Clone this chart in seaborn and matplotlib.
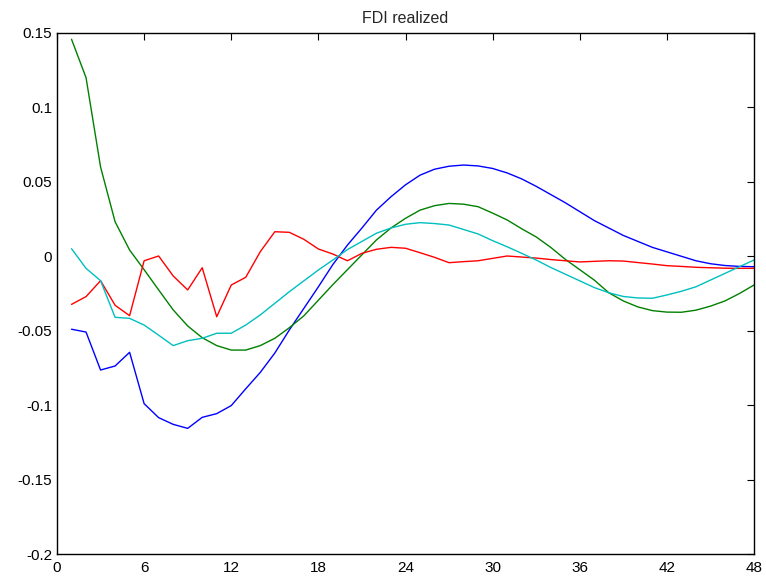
import numpy as np
import pandas as pd
import matplotlib
matplotlib.use("Agg")
import matplotlib.pyplot as plt
import seaborn as sns

# Impulse responses over a 48-period horizon
horizon = list(range(1, 49))

blue_series = [
    -0.0490, -0.0509, -0.0764, -0.0737, -0.0645, -0.0990, -0.1084, -0.1129,
    -0.1156, -0.1082, -0.1057, -0.1003, -0.0890, -0.0780, -0.0650, -0.0495,
    -0.0350, -0.0205, -0.0055, 0.0075, 0.0190, 0.0310, 0.0400, 0.0480,
    0.0545, 0.0585, 0.0605, 0.0613, 0.0607, 0.0590, 0.0560, 0.0520,
    0.0470, 0.0415, 0.0360, 0.0300, 0.0240, 0.0190, 0.0140, 0.0100,
    0.0060, 0.0030, 0.0000, -0.0030, -0.0050, -0.0062, -0.0068, -0.0070,
]

green_series = [
    0.1458, 0.1200, 0.0600, 0.0232, 0.0042, -0.0090, -0.0226, -0.0360,
    -0.0468, -0.0547, -0.0600, -0.0630, -0.0630, -0.0600, -0.0551, -0.0480,
    -0.0400, -0.0295, -0.0190, -0.0090, 0.0010, 0.0110, 0.0190, 0.0255,
    0.0310, 0.0340, 0.0355, 0.0350, 0.0333, 0.0290, 0.0244, 0.0185,
    0.0130, 0.0060, -0.0020, -0.0090, -0.0160, -0.0245, -0.0300, -0.0340,
    -0.0365, -0.0375, -0.0376, -0.0362, -0.0335, -0.0300, -0.0250, -0.0193,
]

red_series = [
    -0.0323, -0.0271, -0.0164, -0.0329, -0.0399, -0.0030, 0.0002, -0.0132,
    -0.0226, -0.0077, -0.0406, -0.0193, -0.0141, 0.0031, 0.0165, 0.0161,
    0.0114, 0.0049, 0.0015, -0.0030, 0.0020, 0.0047, 0.0060, 0.0054,
    0.0024, -0.0007, -0.0043, -0.0036, -0.0030, -0.0014, 0.0002, -0.0005,
    -0.0012, -0.0022, -0.0030, -0.0038, -0.0034, -0.0030, -0.0032, -0.0042,
    -0.0052, -0.0063, -0.0068, -0.0074, -0.0077, -0.0080, -0.0081, -0.0081,
]

cyan_series = [
    0.0051, -0.0081, -0.0164, -0.0410, -0.0417, -0.0462, -0.0530, -0.0600,
    -0.0567, -0.0551, -0.0517, -0.0517, -0.0462, -0.0394, -0.0316, -0.0238,
    -0.0165, -0.0092, -0.0025, 0.0045, 0.0100, 0.0155, 0.0190, 0.0215,
    0.0226, 0.0220, 0.0210, 0.0180, 0.0150, 0.0105, 0.0064, 0.0020,
    -0.0025, -0.0075, -0.0120, -0.0165, -0.0210, -0.0245, -0.0270, -0.0280,
    -0.0282, -0.0260, -0.0235, -0.0205, -0.0160, -0.0115, -0.0070, -0.0025,
]

series_names = ["s1", "s2", "s3", "s4"]
series_colors = ["#0000ff", "#008000", "#ff0000", "#00bfbf"]

x_ticks = [0, 6, 12, 18, 24, 30, 36, 42, 48]
y_ticks = [-0.2, -0.15, -0.1, -0.05, 0, 0.05, 0.1, 0.15]
y_tick_labels = ["-0.2", "-0.15", "-0.1", "-0.05", "0", "0.05", "0.1", "0.15"]

sns.set_style("white")
plt.rcParams["font.family"] = ["Liberation Sans", "DejaVu Sans"]

df = pd.DataFrame({
    "period": horizon * 4,
    "value": blue_series + green_series + red_series + cyan_series,
    "series": sum([[n] * len(horizon) for n in series_names], []),
})

fig = plt.figure(figsize=(7.66, 5.78), dpi=100)
ax = fig.add_axes([57 / 766, 24 / 578, 697 / 766, 521 / 578])

sns.lineplot(
    data=df, x="period", y="value", hue="series",
    hue_order=series_names, palette=series_colors,
    linewidth=1.0, legend=False, ax=ax,
)

ax.set_xlim(0, 48)
ax.set_ylim(-0.2, 0.15)
ax.set_xticks(x_ticks)
ax.set_xticklabels([str(t) for t in x_ticks])
ax.set_yticks(y_ticks)
ax.set_yticklabels(y_tick_labels)
ax.set_xlabel("")
ax.set_ylabel("")
ax.set_title("FDI realized", fontsize=11.5, pad=7)

ax.tick_params(direction="in", length=5, width=0.8, top=True, right=True,
               labelsize=11, colors="black")
ax.tick_params(axis="x", pad=5)
ax.tick_params(axis="y", pad=3.5)
for side in ax.spines.values():
    side.set_visible(True)
    side.set_color("black")
    side.set_linewidth(1.0)

fig.savefig("out.png", dpi=100, facecolor="white")
